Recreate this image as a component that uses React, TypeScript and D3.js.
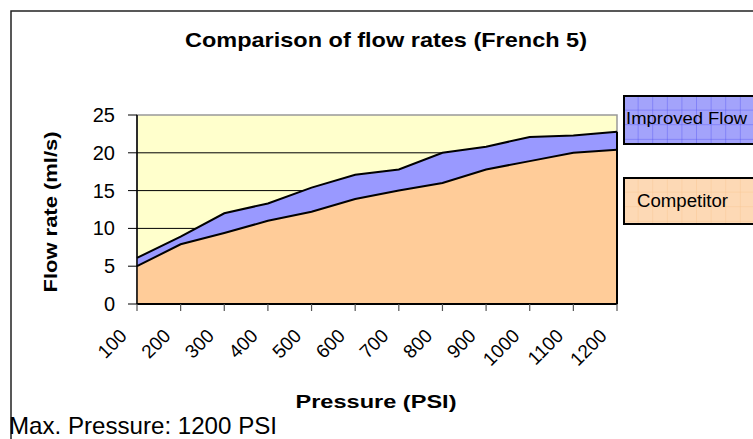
import React from "react";
import * as d3 from "d3";

// values
const pressures = ["100", "200", "300", "400", "500", "600", "700", "800", "900", "1000", "1100", "1200"];
const competitor = [5.0, 7.9, 9.4, 11.0, 12.2, 13.9, 15.0, 16.0, 17.8, 18.9, 20.0, 20.4];
const improvedFlow = [6.1, 8.9, 12.0, 13.3, 15.4, 17.1, 17.8, 20.0, 20.8, 22.1, 22.3, 22.8];
const yTicks = [0, 5, 10, 15, 20, 25];

const FONT = "'Liberation Sans', Arial, sans-serif";

const App = () => {
  const left = 137;
  const right = 617;
  const top = 115;
  const bottom = 304;

  const x = d3.scalePoint<string>().domain(pressures).range([left, right]);
  const y = d3.scaleLinear().domain([0, 25]).range([bottom, top]);

  const area = d3
    .area<number>()
    .x((_, i) => x(pressures[i]) as number)
    .y0(y(0))
    .y1((d) => y(d));

  const line = d3
    .line<number>()
    .x((_, i) => x(pressures[i]) as number)
    .y((d) => y(d));

  return (
    <svg
      width={753}
      height={439}
      style={{ position: "absolute", left: 0, top: 0, background: "#fff" }}
    >
      <defs>
        <pattern id="pImproved" width={14.6} height={14.6} patternUnits="userSpaceOnUse" x={624} y={96}>
          <rect width={14.6} height={14.6} fill="#a3a3fb" />
          <path d="M14.6 0V14.6M0 14.6H14.6" stroke="#5050f0" strokeWidth={0.8} />
        </pattern>
        <pattern id="pCompetitor" width={14.6} height={14.6} patternUnits="userSpaceOnUse" x={624} y={178}>
          <rect width={14.6} height={14.6} fill="#fdd9b5" />
          <path d="M14.6 0V14.6M0 14.6H14.6" stroke="#f8c48e" strokeWidth={0.8} />
        </pattern>
      </defs>

      {/* outer chart border */}
      <rect x={11} y={11} width={900} height={600} fill="none" stroke="#222" strokeWidth={1.5} />

      {/* title */}
      <text x={386} y={47} textAnchor="middle" fontFamily={FONT} fontWeight="bold" fontSize={21}
        textLength={402} lengthAdjust="spacingAndGlyphs">
        Comparison of flow rates (French 5)
      </text>

      {/* plot area */}
      <rect x={left} y={top} width={right - left} height={bottom - top} fill="#ffffcc" stroke="#999" strokeWidth={1.5} />

      {/* grid lines */}
      {yTicks.filter((t) => t > 0 && t < 25).map((t) => (
        <line key={t} x1={left} x2={right} y1={y(t)} y2={y(t)} stroke="#000" strokeWidth={1} />
      ))}

      {/* areas */}
      <path d={area(improvedFlow) ?? ""} fill="#9999ff" />
      <path d={area(competitor) ?? ""} fill="#ffcc99" />
      <path d={line(improvedFlow) ?? ""} fill="none" stroke="#000" strokeWidth={2} />
      <path d={line(competitor) ?? ""} fill="none" stroke="#000" strokeWidth={2} />
      <line x1={right} x2={right} y1={y(improvedFlow[improvedFlow.length - 1])} y2={bottom} stroke="#000" strokeWidth={2} />

      {/* y axis */}
      <line x1={left} x2={left} y1={top} y2={bottom} stroke="#000" strokeWidth={1.5} />
      {yTicks.map((t) => (
        <g key={t}>
          <line x1={left - 9} x2={left} y1={y(t)} y2={y(t)} stroke="#000" strokeWidth={1} />
          <text x={115} y={y(t) + 7} textAnchor="end" fontFamily={FONT} fontSize={20}>
            {t}
          </text>
        </g>
      ))}

      {/* x axis */}
      <line x1={left} x2={right} y1={bottom} y2={bottom} stroke="#000" strokeWidth={2} />
      {pressures.map((p) => {
        const px = x(p) as number;
        return (
          <g key={p}>
            <line x1={px} x2={px} y1={bottom} y2={bottom + 7} stroke="#555" strokeWidth={1.2} />
            <text
              transform={`translate(${px - 9},${337}) rotate(-45)`}
              textAnchor="end"
              fontFamily={FONT}
              fontSize={19}
            >
              {p}
            </text>
          </g>
        );
      })}

      {/* axis titles */}
      <text x={376} y={408} textAnchor="middle" fontFamily={FONT} fontWeight="bold" fontSize={18}
        textLength={161} lengthAdjust="spacingAndGlyphs">
        Pressure (PSI)
      </text>
      <text transform="translate(57,212) rotate(-90)" textAnchor="middle" fontFamily={FONT} fontWeight="bold"
        fontSize={19} textLength={161} lengthAdjust="spacingAndGlyphs">
        Flow rate (ml/s)
      </text>

      {/* legend */}
      <rect x={624} y={96} width={200} height={48} fill="url(#pImproved)" stroke="#000" strokeWidth={2} />
      <text x={626} y={124} fontFamily={FONT} fontSize={17} textLength={121} lengthAdjust="spacingAndGlyphs">
        Improved Flow
      </text>
      <rect x={624} y={178} width={200} height={46} fill="url(#pCompetitor)" stroke="#000" strokeWidth={2} />
      <text x={637} y={207} fontFamily={FONT} fontSize={18} textLength={91} lengthAdjust="spacingAndGlyphs">
        Competitor
      </text>

      {/* footnote */}
      <text x={9} y={434} fontFamily={FONT} fontSize={24} textLength={268} lengthAdjust="spacingAndGlyphs">
        Max. Pressure: 1200 PSI
      </text>
    </svg>
  );
};

export default App;
